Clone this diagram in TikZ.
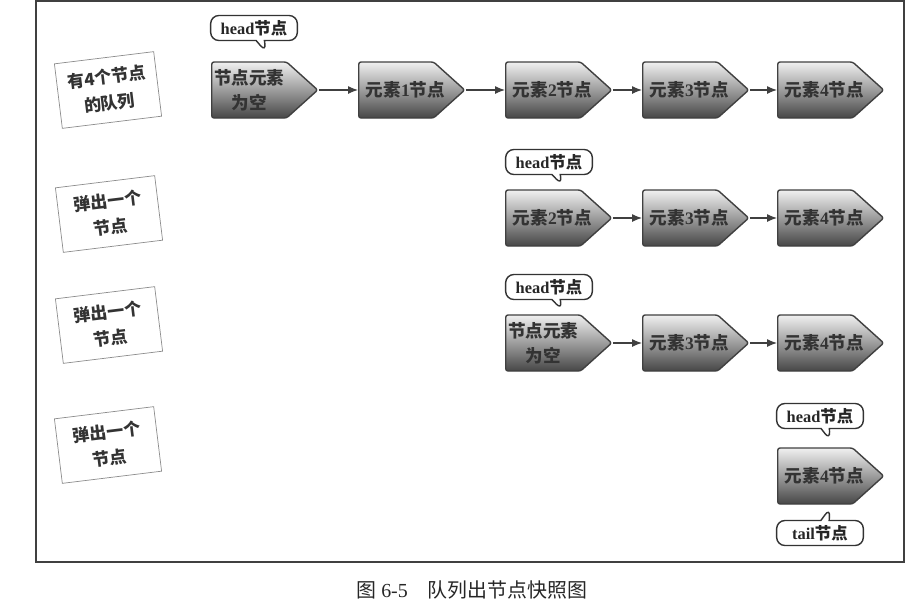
\documentclass[tikz,border=0pt]{standalone}
\usepackage{fontspec}
\setmainfont{Noto Sans CJK SC}
\newfontfamily\latn{Liberation Serif}
\usetikzlibrary{shapes.symbols}
\usetikzlibrary{shapes.callouts}
\usetikzlibrary{arrows.meta}

% one element label, pushed a little towards the tip
\newcommand{\elt}[1]{\makebox[0pt]{\hspace*{16pt}元素{\latn #1}节点}}

\tikzset{
  elem/.style={signal, signal to=east, signal pointer angle=84,
    draw=black!75, line width=1.2pt, rounded corners=2pt,
    top color=black!6, middle color=black!30, bottom color=black!72,
    minimum width=3.18cm, minimum height=1.68cm, inner sep=1pt,
    anchor=west, align=center, text=black!80,
    font=\bfseries\fontsize{15}{21}\selectfont},
  tag/.style={draw=black!45, line width=0.6pt, fill=white,
    minimum width=3.0cm, minimum height=1.95cm, align=center,
    text=black!80, font=\bfseries\fontsize{14.5}{22}\selectfont},
  flag/.style={rectangle callout, draw=black!80, line width=1.2pt,
    rounded corners=7pt, fill=white, minimum width=2.6cm,
    minimum height=0.75cm, inner sep=1pt, text=black!85,
    font=\bfseries\fontsize{14}{16}\selectfont},
  link/.style={draw=black!75, line width=1pt,
    -{Latex[length=3mm,width=2.4mm]}}
}

\begin{document}
\begin{tikzpicture}[x=0.03cm, y=-0.03cm]
\useasboundingbox (0,0) rectangle (913,607);
\draw [black!75, line width=1.2pt] (36,1) rectangle (904,562);

% row 1: four elements
\node [tag, rotate=7] (s1) at (108,90) {有4个节点\\的队列};
\node [elem] (a0) at (211,90) {节点元素\\为空};
\node [elem] (a1) at (358,90) {\elt{1}};
\node [elem] (a2) at (505,90) {\elt{2}};
\node [elem] (a3) at (642,90) {\elt{3}};
\node [elem] (a4) at (777,90) {\elt{4}};
\node [flag, callout absolute pointer={(266,52)}] (ha) at (254,28) {{\latn head}节点};
\draw [link] (a0.east) -- (a1.west);
\draw [link] (a1.east) -- (a2.west);
\draw [link] (a2.east) -- (a3.west);
\draw [link] (a3.east) -- (a4.west);

% row 2
\node [tag, rotate=7] (s2) at (109,214) {弹出一个\\节点};
\node [elem] (b2) at (505,218) {\elt{2}};
\node [elem] (b3) at (642,218) {\elt{3}};
\node [elem] (b4) at (777,218) {\elt{4}};
\node [flag, callout absolute pointer={(562,185)}] (hb) at (549,162) {{\latn head}节点};
\draw [link] (b2.east) -- (b3.west);
\draw [link] (b3.east) -- (b4.west);

% row 3
\node [tag, rotate=7] (s3) at (109,325) {弹出一个\\节点};
\node [elem] (c0) at (505,343) {节点元素\\为空};
\node [elem] (c3) at (642,343) {\elt{3}};
\node [elem] (c4) at (777,343) {\elt{4}};
\node [flag, callout absolute pointer={(562,310)}] (hc) at (549,287) {{\latn head}节点};
\draw [link] (c0.east) -- (c3.west);
\draw [link] (c3.east) -- (c4.west);

% row 4
\node [tag, rotate=7] (s4) at (108,445) {弹出一个\\节点};
\node [elem] (d4) at (777,476) {\elt{4}};
\node [flag, callout absolute pointer={(830,440)}] (hd) at (820,416) {{\latn head}节点};
\node [flag, callout absolute pointer={(830,508)}] (td) at (820,533) {{\latn tail}节点};

\node [text=black!85, font=\fontsize{17}{19}\selectfont] (cap) at (472,590)
  {图 {\latn 6-5}\quad 队列出节点快照图};
\end{tikzpicture}
\end{document}
